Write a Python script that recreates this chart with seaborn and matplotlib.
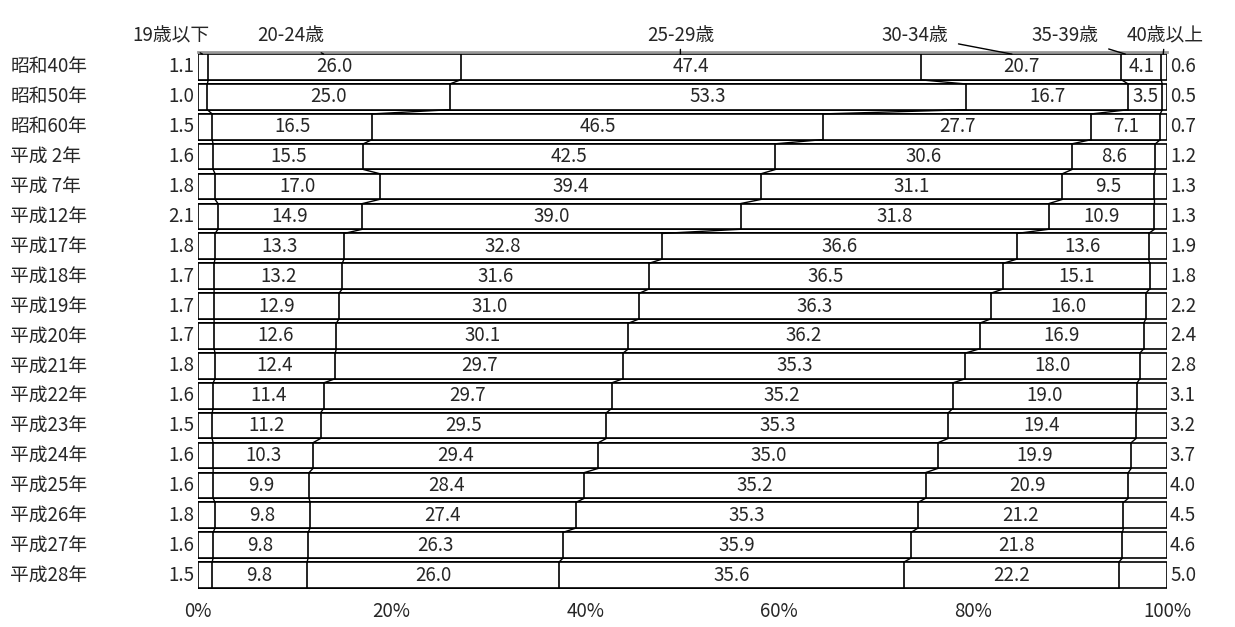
import numpy as np
import pandas as pd
import matplotlib
matplotlib.use('Agg')
import matplotlib.pyplot as plt
import seaborn as sns

sns.set_theme(style="white")
plt.rcParams['font.family'] = ['Noto Sans CJK JP', 'DejaVu Sans']

years = ["昭和40年", "昭和50年", "昭和60年", "平成 2年", "平成 7年", "平成12年",
         "平成17年", "平成18年", "平成19年", "平成20年", "平成21年", "平成22年",
         "平成23年", "平成24年", "平成25年", "平成26年", "平成27年", "平成28年"]
groups = ["19歳以下", "20-24歳", "25-29歳", "30-34歳", "35-39歳", "40歳以上"]
age_19 = [1.1, 1.0, 1.5, 1.6, 1.8, 2.1, 1.8, 1.7, 1.7, 1.7, 1.8, 1.6, 1.5, 1.6, 1.6, 1.8, 1.6, 1.5]
age_20 = [26.0, 25.0, 16.5, 15.5, 17.0, 14.9, 13.3, 13.2, 12.9, 12.6, 12.4, 11.4, 11.2, 10.3, 9.9, 9.8, 9.8, 9.8]
age_25 = [47.4, 53.3, 46.5, 42.5, 39.4, 39.0, 32.8, 31.6, 31.0, 30.1, 29.7, 29.7, 29.5, 29.4, 28.4, 27.4, 26.3, 26.0]
age_30 = [20.7, 16.7, 27.7, 30.6, 31.1, 31.8, 36.6, 36.5, 36.3, 36.2, 35.3, 35.2, 35.3, 35.0, 35.2, 35.3, 35.9, 35.6]
age_35 = [4.1, 3.5, 7.1, 8.6, 9.5, 10.9, 13.6, 15.1, 16.0, 16.9, 18.0, 19.0, 19.4, 19.9, 20.9, 21.2, 21.8, 22.2]
age_40 = [0.6, 0.5, 0.7, 1.2, 1.3, 1.3, 1.9, 1.8, 2.2, 2.4, 2.8, 3.1, 3.2, 3.7, 4.0, 4.5, 4.6, 5.0]

vals = np.array([age_19, age_20, age_25, age_30, age_35, age_40]).T
total = vals.sum(axis=1, keepdims=True)
cum = np.cumsum(vals / total * 100, axis=1)
starts = cum - vals / total * 100

FS = 13.5
fig = plt.figure(figsize=(12.35, 6.27), dpi=100)
ax = fig.add_axes([0.16, 0.059, 0.785, 0.858])

# overlay cumulative bars, longest first
H = 0.86
for k in range(5, -1, -1):
    df = pd.DataFrame({"year": years, "cum": cum[:, k]})
    sns.barplot(data=df, x="cum", y="year", orient="h", color="white",
                edgecolor="black", linewidth=1.2, width=H, saturation=1, ax=ax)

# series lines
n = len(years)
for i in range(n - 1):
    for k in range(5):
        ax.plot([cum[i, k], cum[i + 1, k]], [i + H / 2, i + 1 - H / 2],
                color="black", lw=1.0)

# values
for i in range(n):
    for k in range(1, 5):
        ax.text((starts[i, k] + cum[i, k]) / 2, i, f"{vals[i, k]:.1f}",
                ha="center", va="center", fontsize=FS)
    ax.text(-0.3, i, f"{vals[i, 0]:.1f}", ha="right", va="center", fontsize=FS)
    ax.text(100.3, i, f"{vals[i, 5]:.1f}", ha="left", va="center", fontsize=FS)
    ax.text(-19.3, i, years[i], ha="left", va="center", fontsize=FS)

# header labels with leader lines
label_x = [-2.8, 9.6, 49.8, 74.0, 89.5, 99.8]
target_x = [0.5, 13.0, 49.8, 84.0, 95.7, 99.6]
for g, lx, tx in zip(groups, label_x, target_x):
    ax.annotate(g, xy=(tx, -H / 2), xytext=(lx, -1.05), ha="center", va="center",
                fontsize=FS, arrowprops=dict(arrowstyle="-", color="black", lw=1.0,
                                             shrinkA=5, shrinkB=0),
                annotation_clip=False)

ax.set_xlim(0, 100)
ax.set_ylim(n - 0.5, -0.5)
ax.set_xticks(np.arange(0, 101, 20))
ax.set_xticklabels([f"{t}%" for t in range(0, 101, 20)], fontsize=FS)
ax.set_yticks([])
ax.set_xlabel("")
ax.set_ylabel("")
for s in ["left", "right", "bottom"]:
    ax.spines[s].set_visible(False)
ax.spines["top"].set_color("#999999")
ax.spines["top"].set_linewidth(2)
ax.tick_params(axis="x", length=0, pad=8)

fig.savefig("out.png", dpi=100)
